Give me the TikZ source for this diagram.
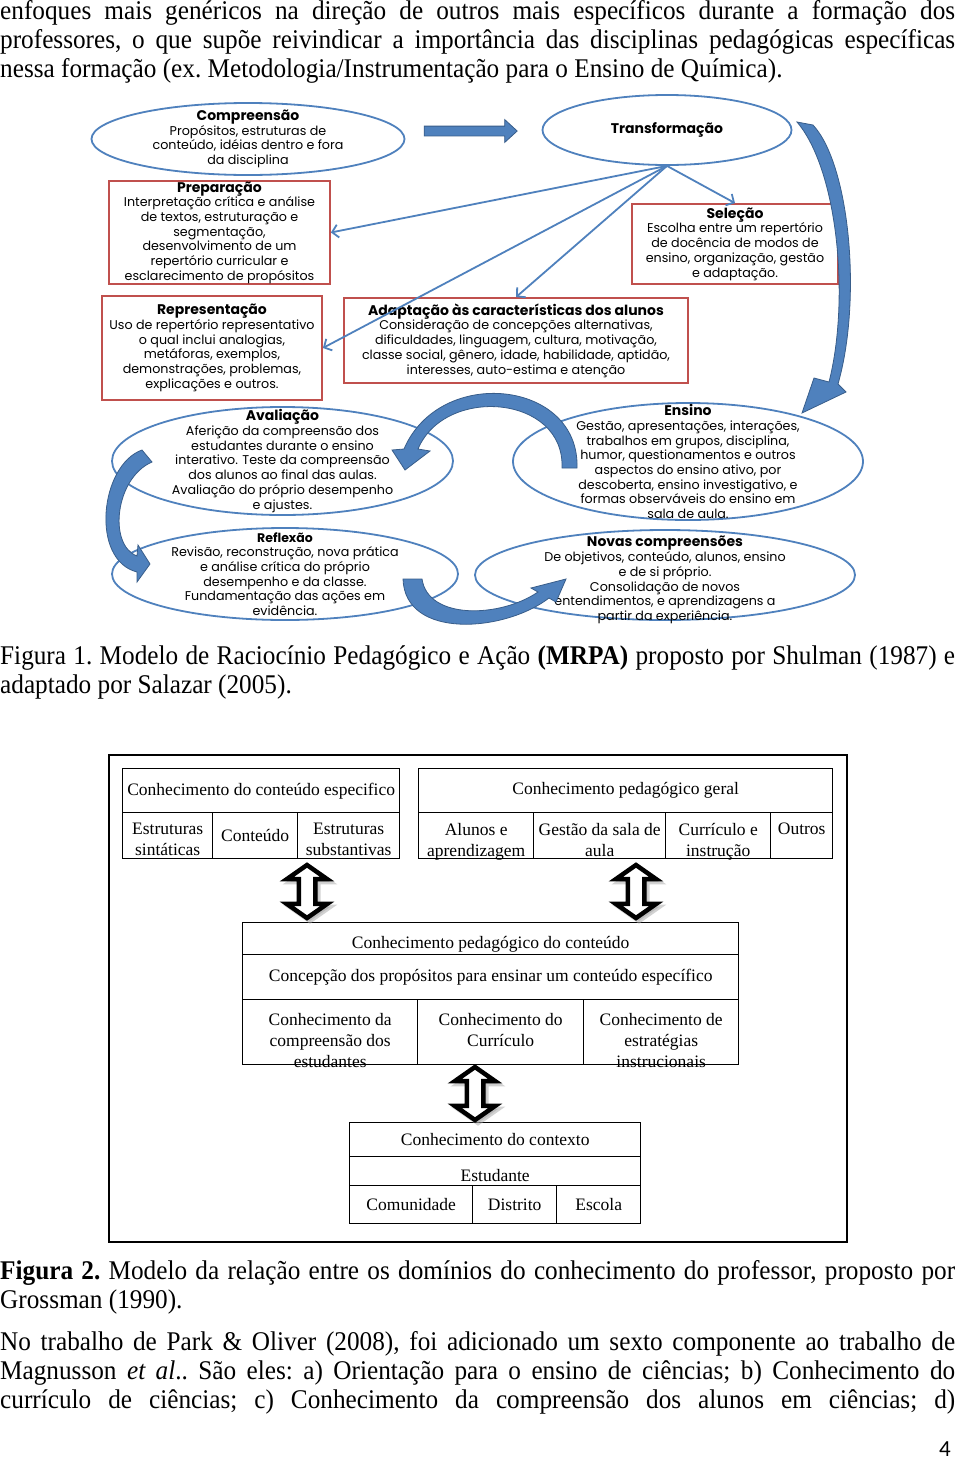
\documentclass[tikz,border=0pt]{standalone}
\usepackage{fontspec}
\setmainfont{Liberation Serif}
\newfontfamily\bodyserif[FakeStretch=0.935]{Liberation Serif}
\newfontfamily\gothic{Poppins}
\newfontfamily\numfont{Carlito}
\usetikzlibrary{positioning, arrows.meta, shapes.geometric, shapes.arrows, shadows}

\definecolor{blueF}{HTML}{4F81BD}
\definecolor{blueD}{HTML}{385D8A}
\definecolor{redB}{HTML}{C0504D}

\newcommand{\bodyfs}{\bodyserif\fontsize{27}{29}\selectfont\frenchspacing}
\newcommand{\figfs}{\fontsize{12.7}{14.7}\selectfont\gothic}
\newcommand{\titfs}{\fontsize{14}{14.7}\selectfont\gothic\bfseries}
\newcommand{\subtitfs}{\fontsize{12.5}{14.7}\selectfont\gothic\bfseries}
\newcommand{\gridfs}{\fontsize{17.5}{21}\selectfont}

\begin{document}
\begin{tikzpicture}[x=1pt, y=-1pt,
  body/.style={anchor=base west, inner sep=0, font=\bodyfs},
  ell/.style={ellipse, draw=blueF, line width=1.8pt, inner sep=0},
  rec/.style={rectangle, draw=redB, line width=1.8pt, inner sep=0},
  lbl/.style={align=center, inner sep=0, font=\figfs},
  link/.style={draw=blueF, line width=1.8pt, -{Straight Barb[length=6pt, width=13pt]}},
  tarr/.style={fill=blueF, draw=blueD, line width=0.8pt},
  cell/.style={rectangle, draw, line width=1.4pt, inner sep=0, anchor=north west, align=center, font=\gridfs},
  low/.style={text height=20pt, text depth=0pt},
  clbl/.style={anchor=north, align=center, inner sep=0, font=\gridfs},
  dblarr/.style={double arrow, draw, line width=4.5pt, fill=white, inner sep=6pt, minimum height=53pt, double arrow head extend=12pt, double arrow tip angle=110, shape border rotate=90, drop shadow={shadow xshift=3pt, shadow yshift=-3pt, fill=black!35, draw=black!35, line width=4.5pt}}]

  \useasboundingbox[fill=white] (0,0) rectangle (960,1462);

  \node[body] (p1) at (0,19) {\makebox[955pt][s]{enfoques mais genéricos na direção de outros mais específicos durante a formação dos}};
  \node[body] (p2) at (0,48) {\makebox[955pt][s]{professores, o que supõe reivindicar a importância das disciplinas pedagógicas específicas}};
  \node[body] (p3) at (0,77) {nessa formação (ex. Metodologia/Instrumentação para o Ensino de Química).};

  \node[ell, minimum width=313pt, minimum height=72pt, label={[lbl]center:{{\titfs Compreensão}\\Propósitos, estruturas de\\conteúdo, idéias dentro e fora\\da disciplina}}] (comp) at (248,139) {};
  \node[ell, minimum width=249pt, minimum height=70pt, font=\titfs] (transf) at (667,130) {Transformação};
  \node[single arrow, tarr, minimum height=93pt, inner sep=4.5pt, single arrow head extend=6.5pt, single arrow tip angle=85] (seta) at (468,131) {};

  \node[rec, minimum width=221pt, minimum height=103pt, label={[lbl]center:{{\titfs Preparação}\\Interpretação crítica e análise\\de textos, estruturação e\\segmentação,\\desenvolvimento de um\\repertório curricular e\\esclarecimento de propósitos}}] (prep) at (219.5,232.5) {};
  \node[rec, minimum width=206pt, minimum height=80pt, label={[lbl]center:{{\titfs Seleção}\\Escolha entre um repertório\\de docência de modos de\\ensino, organização, gestão\\e adaptação.}}] (sel) at (735,244) {};
  \node[rec, minimum width=220pt, minimum height=104pt, label={[lbl]center:{{\titfs Representação}\\Uso de repertório representativo\\o qual inclui analogias,\\metáforas, exemplos,\\demonstrações, problemas,\\explicações e outros.}}] (repr) at (212,348) {};
  \node[rec, minimum width=344pt, minimum height=85pt, label={[lbl]center:{{\titfs Adaptação às características dos alunos}\\Consideração de concepções alternativas,\\dificuldades, linguagem, cultura, motivação,\\classe social, gênero, idade, habilidade, aptidão,\\interesses, auto-estima e atenção}}] (adap) at (516,340.5) {};

  \node[ell, minimum width=341pt, minimum height=108pt, label={[lbl]center:{{\titfs Avaliação}\\Aferição da compreensão dos\\estudantes durante o ensino\\interativo. Teste da compreensão\\dos alunos ao final das aulas.\\Avaliação do próprio desempenho\\e ajustes.}}] (aval) at (282.5,461) {};
  \node[ell, minimum width=346pt, minimum height=92pt, label={[lbl]center:{{\subtitfs Reflexão}\\Revisão, reconstrução, nova prática\\e análise crítica do próprio\\desempenho e da classe.\\Fundamentação das ações em\\evidência.}}] (refl) at (285,574) {};
  \node[ell, minimum width=350pt, minimum height=117pt, label={[lbl]center:{{\titfs Ensino}\\Gestão, apresentações, interações,\\trabalhos em grupos, disciplina,\\humor, questionamentos e outros\\aspectos do ensino ativo, por\\descoberta, ensino investigativo, e\\formas observáveis do ensino em\\sala de aula.}}] (ens) at (688,461.5) {};
  \node[ell, minimum width=380pt, minimum height=90pt, label={[lbl, yshift=-5pt]center:{{\titfs Novas compreensões}\\De objetivos, conteúdo, alunos, ensino\\e de si próprio.\\Consolidação de novos\\entendimentos, e aprendizagens a\\partir da experiência.}}] (novas) at (665,575) {};

  \draw[link] (transf.south) -- (prep.east);
  \draw[link] (transf.south) -- (repr.east);
  \draw[link] (transf.south) -- (adap.north);
  \draw[link] (transf.south) -- (sel.north);

  \filldraw[tarr] (797,122) -- (813,125) .. controls (850,165) and (862,300) .. (838,384) -- (846,392) -- (802,413) -- (814,378) -- (829,382) .. controls (850,300) and (838,170) .. (797,122) -- cycle;
  \filldraw[tarr] (562,468) -- (577,468) .. controls (580,380) and (440,365) .. (404,449) -- (392,450) -- (405,470) -- (430,451) -- (418,449) .. controls (445,385) and (565,395) .. (562,468) -- cycle;
  \filldraw[tarr] (152,462) -- (142,450) .. controls (100,465) and (90,560) .. (137,572) -- (137,582) -- (150,564) -- (138,545) -- (137,556) .. controls (108,545) and (115,478) .. (152,462) -- cycle;
  \filldraw[tarr] (422,579) -- (403,579) .. controls (405,640) and (505,632) .. (549,598) -- (556,602) -- (566,579) -- (531,588) -- (538,592) .. controls (500,618) and (428,620) .. (422,579) -- cycle;

  \node[body] (cap1a) at (0,664) {\makebox[955pt][s]{Figura 1. Modelo de Raciocínio Pedagógico e Ação \textbf{(MRPA)} proposto por Shulman (1987) e}};
  \node[body] (cap1b) at (0,693) {adaptado por Salazar (2005).};

  \node[cell, minimum width=738pt, minimum height=487pt, line width=1.8pt] (fig2) at (108,754) {};

  \node[cell, minimum width=277pt, minimum height=44pt] (cce) at (122,768) {Conhecimento do conteúdo especifico};
  \node[cell, minimum width=90pt, minimum height=46pt, label={[clbl, yshift=-11pt]north:{Estruturas\\sintáticas}}] (sint) at (122,812) {};
  \node[cell, minimum width=85pt, minimum height=46pt] (cont) at (212,812) {Conteúdo};
  \node[cell, minimum width=102pt, minimum height=46pt, label={[clbl, yshift=-11pt]north:{Estruturas\\substantivas}}] (subst) at (297,812) {};

  \node[cell, minimum width=414pt, minimum height=44pt] (cpg) at (418,768) {Conhecimento pedagógico geral};
  \node[cell, minimum width=115pt, minimum height=46pt, label={[clbl, yshift=-11pt]north:{Alunos e\\aprendizagem}}] (alun) at (418,812) {};
  \node[cell, minimum width=132pt, minimum height=46pt, label={[clbl, yshift=-11pt]north:{Gestão da sala de\\aula}}] (gest) at (533,812) {};
  \node[cell, minimum width=105pt, minimum height=46pt, label={[clbl, yshift=-11pt]north:{Currículo e\\instrução}}] (curr) at (665,812) {};
  \node[cell, minimum width=62pt, minimum height=46pt, label={[clbl, yshift=-11pt]north:Outros}] (outr) at (770,812) {};

  \node[cell, low, minimum width=496pt, minimum height=32pt] (cpc) at (242,922) {Conhecimento pedagógico do conteúdo};
  \node[cell, minimum width=496pt, minimum height=45pt] (conc) at (242,954) {Concepção dos propósitos para ensinar um conteúdo específico};
  \node[cell, minimum width=175pt, minimum height=65pt, label={[clbl, yshift=-14pt]north:{Conhecimento da\\compreensão dos\\estudantes}}] (kest) at (242,999) {};
  \node[cell, minimum width=166pt, minimum height=65pt, label={[clbl, yshift=-14pt]north:{Conhecimento do\\Currículo}}] (kcur) at (417,999) {};
  \node[cell, minimum width=155pt, minimum height=65pt, label={[clbl, yshift=-14pt]north:{Conhecimento de\\estratégias\\instrucionais}}] (kinst) at (583,999) {};

  \node[cell, minimum width=291pt, minimum height=34pt] (ctx) at (349,1122) {Conhecimento do contexto};
  \node[cell, low, minimum width=291pt, minimum height=29pt] (estu) at (349,1156) {Estudante};
  \node[cell, minimum width=123pt, minimum height=38pt] (comu) at (349,1185) {Comunidade};
  \node[cell, minimum width=84pt, minimum height=38pt] (dist) at (472,1185) {Distrito};
  \node[cell, minimum width=84pt, minimum height=38pt] (esco) at (556,1185) {Escola};

  \node[dblarr] (dup1) at (307,891.5) {};
  \node[dblarr] (dup2) at (636,891.5) {};
  \node[dblarr] (dup3) at (475,1093.5) {};

  \node[body] (cap2a) at (0,1279) {\makebox[955pt][s]{\textbf{Figura 2.} Modelo da relação entre os domínios do conhecimento do professor, proposto por}};
  \node[body] (cap2b) at (0,1308) {Grossman (1990).};

  \node[body] (q1) at (0,1350) {\makebox[955pt][s]{No trabalho de Park \& Oliver (2008), foi adicionado um sexto componente ao trabalho de}};
  \node[body] (q2) at (0,1379) {\makebox[955pt][s]{Magnusson \textit{et al}.. São eles: a) Orientação para o ensino de ciências; b) Conhecimento do}};
  \node[body] (q3) at (0,1408) {\makebox[955pt][s]{currículo de ciências; c) Conhecimento da compreensão dos alunos em ciências; d)}};

  \node[anchor=base east, inner sep=0, font=\numfont\fontsize{23}{28}\selectfont] (pg) at (951,1456) {4};
\end{tikzpicture}
\end{document}
